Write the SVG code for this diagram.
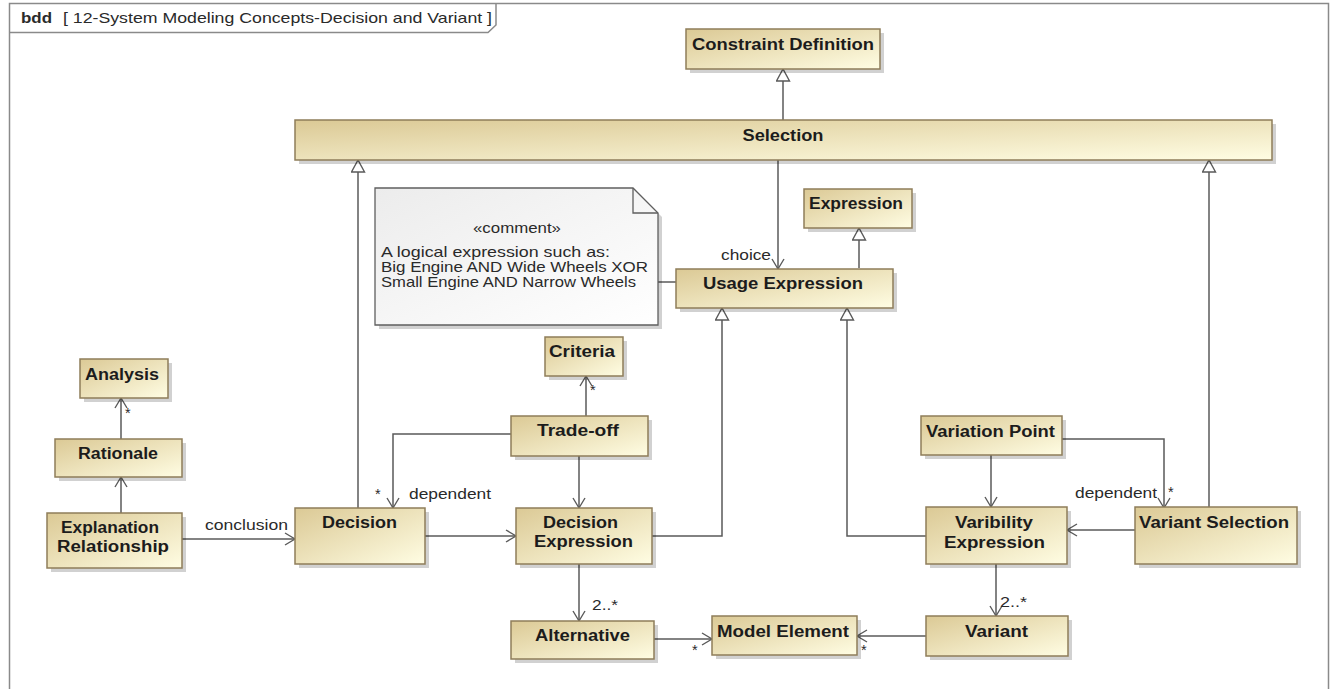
<svg xmlns="http://www.w3.org/2000/svg" width="1334" height="689" viewBox="0 0 1334 689">
  <defs>
    <linearGradient id="blockFill" x1="0" y1="0" x2="1" y2="1">
      <stop offset="0" stop-color="#dbc995"/>
      <stop offset="1" stop-color="#fffde3"/>
    </linearGradient>
    <linearGradient id="noteFill" x1="0" y1="0" x2="1" y2="1">
      <stop offset="0" stop-color="#ececec"/>
      <stop offset="1" stop-color="#ffffff"/>
    </linearGradient>
    <marker id="tri" markerUnits="userSpaceOnUse" markerWidth="14" markerHeight="15" viewBox="-1 -1 14 15" refX="12" refY="6.5" orient="auto">
      <path d="M0,0 L12,6.5 L0,13 Z" fill="#ffffff" stroke="#5a5a5a" stroke-width="1.4"/>
    </marker>
    <marker id="open" markerUnits="userSpaceOnUse" markerWidth="13" markerHeight="14" viewBox="-1 -1 13 14" refX="10" refY="6" orient="auto">
      <path d="M0,0 L10,6 L0,12" fill="none" stroke="#5a5a5a" stroke-width="1.4"/>
    </marker>
  </defs>
  <style>
    .frame { fill: #ffffff; stroke: #8a8a8a; stroke-width: 1.5; }
    .block { fill: url(#blockFill); stroke: #8e7d5a; stroke-width: 1.5; }
    .shadow { fill: #000000; opacity: 0.18; }
    .note { fill: url(#noteFill); stroke: #5f5f5f; stroke-width: 1.3; }
    .nb { font-family: "Liberation Sans", Arial, sans-serif; font-size: 16px; font-weight: bold; fill: #1c1c1c; text-anchor: middle; }
    .lb { font-family: "Liberation Sans", Arial, sans-serif; font-size: 14.5px; fill: #2a2a2a; }
    .mid { text-anchor: middle; }
    .edge { fill: none; stroke: #5a5a5a; stroke-width: 1.5; }
    .gen { marker-end: url(#tri); }
    .assoc { marker-end: url(#open); }
  </style>

  <!-- diagram frame with name tab -->
  <g id="frame">
    <rect class="frame" x="9.5" y="3.5" width="1319" height="690"/>
    <path d="M9.5,32.5 H488 L496,25 V3.5" fill="none" stroke="#8a8a8a" stroke-width="1.5"/>
    <text x="21" y="23" class="lb" style="font-weight:bold" textLength="31" lengthAdjust="spacingAndGlyphs">bdd</text>
    <text x="63" y="23" class="lb" textLength="429" lengthAdjust="spacingAndGlyphs">[ 12-System Modeling Concepts-Decision and Variant ]</text>
  </g>

  <!-- connectors -->
  <g id="connectors">
    <path class="edge gen" d="M783,120 V69"/>
    <path class="edge gen" d="M358,508 V160"/>
    <path class="edge gen" d="M1209,508 V160"/>
    <path class="edge assoc" d="M778,160 V269"/>
    <path class="edge gen" d="M859,268 V228"/>
    <path class="edge" d="M658,282 H676"/>
    <path class="edge gen" d="M652,536 H722 V308"/>
    <path class="edge gen" d="M926,536 H847 V308"/>
    <path class="edge assoc" d="M121,439 V398"/>
    <path class="edge assoc" d="M121,513 V477"/>
    <path class="edge assoc" d="M182,539 H295"/>
    <path class="edge assoc" d="M586,416 V376"/>
    <path class="edge assoc" d="M511,434 H393 V508"/>
    <path class="edge assoc" d="M579,456 V508"/>
    <path class="edge assoc" d="M425,536 H516"/>
    <path class="edge assoc" d="M579,564 V621"/>
    <path class="edge assoc" d="M654,639 H712"/>
    <path class="edge assoc" d="M926,636 H857"/>
    <path class="edge assoc" d="M996,564 V616"/>
    <path class="edge assoc" d="M991,455 V507"/>
    <path class="edge assoc" d="M1062,439 H1164 V508"/>
    <path class="edge assoc" d="M1135,530 H1067"/>

    <!-- role names and multiplicities -->
    <text class="lb" x="721" y="260" textLength="50" lengthAdjust="spacingAndGlyphs">choice</text>
    <text class="lb" x="205" y="530" textLength="83" lengthAdjust="spacingAndGlyphs">conclusion</text>
    <text class="lb" x="590" y="395">*</text>
    <text class="lb" x="125" y="418">*</text>
    <text class="lb" x="375" y="499">*</text>
    <text class="lb" x="409" y="499" textLength="82" lengthAdjust="spacingAndGlyphs">dependent</text>
    <text class="lb" x="592" y="610" textLength="26" lengthAdjust="spacingAndGlyphs">2..*</text>
    <text class="lb" x="692" y="655">*</text>
    <text class="lb" x="861" y="655">*</text>
    <text class="lb" x="1000" y="607" textLength="27" lengthAdjust="spacingAndGlyphs">2..*</text>
    <text class="lb" x="1075" y="498" textLength="82" lengthAdjust="spacingAndGlyphs">dependent</text>
    <text class="lb" x="1168" y="497">*</text>
  </g>

  <!-- blocks -->
  <g id="constraint-definition">
    <rect class="shadow" x="690" y="33" width="194" height="40"/>
    <rect class="block" x="686" y="29" width="194" height="40"/>
    <text class="nb" x="783" y="50" textLength="182" lengthAdjust="spacingAndGlyphs">Constraint Definition</text>
  </g>

  <g id="selection">
    <rect class="shadow" x="299" y="124" width="977" height="40"/>
    <rect class="block" x="295" y="120" width="977" height="40"/>
    <text class="nb" x="783" y="141" textLength="81" lengthAdjust="spacingAndGlyphs">Selection</text>
  </g>

  <g id="comment">
    <path class="shadow" d="M379,192 H637 L662,217 V329 H379 Z"/>
    <path class="note" d="M375,188 H633 L658,213 V325 H375 Z"/>
    <path d="M633,188 V213 H658" fill="none" stroke="#5f5f5f" stroke-width="1.3"/>
    <text class="lb mid" x="517" y="233" textLength="88" lengthAdjust="spacingAndGlyphs">«comment»</text>
    <text class="lb" x="381" y="257" textLength="229" lengthAdjust="spacingAndGlyphs">A logical expression such as:</text>
    <text class="lb" x="381" y="272" textLength="267" lengthAdjust="spacingAndGlyphs">Big Engine AND Wide Wheels XOR</text>
    <text class="lb" x="381" y="287" textLength="255" lengthAdjust="spacingAndGlyphs">Small Engine AND Narrow Wheels</text>
  </g>

  <g id="expression">
    <rect class="shadow" x="808" y="193" width="108" height="39"/>
    <rect class="block" x="804" y="189" width="108" height="39"/>
    <text class="nb" x="856" y="209" textLength="94" lengthAdjust="spacingAndGlyphs">Expression</text>
  </g>

  <g id="usage-expression">
    <rect class="shadow" x="680" y="273" width="217" height="39"/>
    <rect class="block" x="676" y="269" width="217" height="39"/>
    <text class="nb" x="783" y="289" textLength="160" lengthAdjust="spacingAndGlyphs">Usage Expression</text>
  </g>

  <g id="analysis">
    <rect class="shadow" x="84" y="363" width="88" height="39"/>
    <rect class="block" x="80" y="359" width="88" height="39"/>
    <text class="nb" x="122" y="380" textLength="74" lengthAdjust="spacingAndGlyphs">Analysis</text>
  </g>

  <g id="rationale">
    <rect class="shadow" x="59" y="443" width="127" height="38"/>
    <rect class="block" x="55" y="439" width="127" height="38"/>
    <text class="nb" x="118" y="459" textLength="80" lengthAdjust="spacingAndGlyphs">Rationale</text>
  </g>

  <g id="explanation-relationship">
    <rect class="shadow" x="51" y="517" width="135" height="55"/>
    <rect class="block" x="47" y="513" width="135" height="55"/>
    <text class="nb" x="110" y="533" textLength="98" lengthAdjust="spacingAndGlyphs">Explanation</text>
    <text class="nb" x="113" y="552" textLength="112" lengthAdjust="spacingAndGlyphs">Relationship</text>
  </g>

  <g id="criteria">
    <rect class="shadow" x="549" y="341" width="78" height="39"/>
    <rect class="block" x="545" y="337" width="78" height="39"/>
    <text class="nb" x="582" y="357" textLength="66" lengthAdjust="spacingAndGlyphs">Criteria</text>
  </g>

  <g id="trade-off">
    <rect class="shadow" x="515" y="420" width="137" height="40"/>
    <rect class="block" x="511" y="416" width="137" height="40"/>
    <text class="nb" x="578" y="436" textLength="82" lengthAdjust="spacingAndGlyphs">Trade-off</text>
  </g>

  <g id="decision">
    <rect class="shadow" x="299" y="512" width="130" height="56"/>
    <rect class="block" x="295" y="508" width="130" height="56"/>
    <text class="nb" x="359.5" y="528" textLength="75" lengthAdjust="spacingAndGlyphs">Decision</text>
  </g>

  <g id="decision-expression">
    <rect class="shadow" x="520" y="512" width="136" height="56"/>
    <rect class="block" x="516" y="508" width="136" height="56"/>
    <text class="nb" x="580.5" y="528" textLength="75" lengthAdjust="spacingAndGlyphs">Decision</text>
    <text class="nb" x="583.5" y="547" textLength="99" lengthAdjust="spacingAndGlyphs">Expression</text>
  </g>

  <g id="alternative">
    <rect class="shadow" x="515" y="625" width="143" height="38"/>
    <rect class="block" x="511" y="621" width="143" height="38"/>
    <text class="nb" x="582.5" y="641" textLength="95" lengthAdjust="spacingAndGlyphs">Alternative</text>
  </g>

  <g id="model-element">
    <rect class="shadow" x="716" y="620" width="145" height="39"/>
    <rect class="block" x="712" y="616" width="145" height="39"/>
    <text class="nb" x="783" y="637" textLength="132" lengthAdjust="spacingAndGlyphs">Model Element</text>
  </g>

  <g id="variant">
    <rect class="shadow" x="930" y="620" width="142" height="40"/>
    <rect class="block" x="926" y="616" width="142" height="40"/>
    <text class="nb" x="996.5" y="637" textLength="63" lengthAdjust="spacingAndGlyphs">Variant</text>
  </g>

  <g id="variation-point">
    <rect class="shadow" x="925" y="420" width="141" height="39"/>
    <rect class="block" x="921" y="416" width="141" height="39"/>
    <text class="nb" x="990.5" y="437" textLength="129" lengthAdjust="spacingAndGlyphs">Variation Point</text>
  </g>

  <g id="varibility-expression">
    <rect class="shadow" x="930" y="511" width="141" height="57"/>
    <rect class="block" x="926" y="507" width="141" height="57"/>
    <text class="nb" x="994" y="528" textLength="78" lengthAdjust="spacingAndGlyphs">Varibility</text>
    <text class="nb" x="994.5" y="548" textLength="101" lengthAdjust="spacingAndGlyphs">Expression</text>
  </g>

  <g id="variant-selection">
    <rect class="shadow" x="1139" y="511" width="162" height="57"/>
    <rect class="block" x="1135" y="507" width="162" height="57"/>
    <text class="nb" x="1214" y="528" textLength="150" lengthAdjust="spacingAndGlyphs">Variant Selection</text>
  </g>
</svg>
